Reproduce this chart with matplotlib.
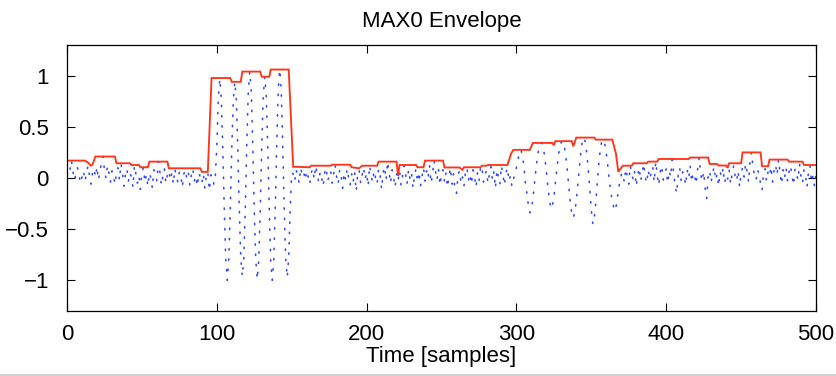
import numpy as np
import matplotlib
matplotlib.use("Agg")
import matplotlib.pyplot as plt
from matplotlib.lines import Line2D

plt.rcParams['font.family'] = ['Liberation Sans', 'DejaVu Sans']
plt.rcParams['lines.scale_dashes'] = False
plt.rcParams['axes.unicode_minus'] = True

# ---- data ----
signal = [
    # 0-96 noise
    0.05, 0.02, 0.08, 0.17, 0.06, -0.02, 0.04, 0.10, 0.03, -0.05,
    0.01, 0.07, -0.03, 0.04, 0.12, 0.02, -0.06, 0.05, 0.09, 0.01,
    0.11, -0.02, 0.06, 0.15, 0.21, 0.08, 0.00, 0.12, 0.05, -0.04,
    0.07, 0.02, -0.06, 0.04, 0.10, -0.02, 0.14, 0.06, -0.08, 0.03,
    0.09, -0.03, 0.05, 0.01, -0.09, 0.12, 0.04, -0.05, 0.02, -0.11,
    0.06, 0.10, -0.04, 0.03, -0.08, 0.05, 0.00, -0.10, 0.08, 0.04,
    -0.03, 0.16, 0.06, -0.07, 0.02, 0.09, -0.05, 0.03, 0.07, -0.02,
    0.05, -0.06, 0.09, 0.01, -0.04, 0.06, 0.02, -0.09, 0.04, 0.08,
    -0.01, 0.05, -0.07, 0.03, 0.09, -0.03, 0.02, -0.08, 0.05, 0.01,
    -0.05, 0.04, -0.10, 0.02, 0.06, -0.12, 0.03,
    # 97-150 strong oscillation
    0.03, -0.06, 0.02, 0.30, 0.78, 0.97, 0.78, 0.29, -0.31, -0.80,
    -1.00, -0.79, -0.30, 0.29, 0.76, 0.94, 0.77, 0.30, -0.30, -0.78,
    -0.96, -0.80, -0.31, 0.32, 0.84, 1.04, 0.85, 0.32, -0.31, -0.80,
    -0.99, -0.80, -0.31, 0.31, 0.80, 0.99, 0.80, 0.31, -0.31, -0.81,
    -1.00, -0.82, -0.32, 0.33, 0.86, 1.06, 0.86, 0.33, -0.30, -0.79,
    -0.97, -0.78, -0.30, 0.05,
    # 151-295 noise
    0.04, -0.03, 0.08, 0.02, -0.05, 0.10, 0.03, 0.06, -0.02, 0.07,
    0.01, -0.06, 0.05, 0.09, -0.01, 0.12, 0.04, -0.04, 0.06, 0.00,
    -0.08, 0.05, 0.10, -0.03, 0.02, 0.07, -0.05, 0.04, 0.13, 0.01,
    -0.06, 0.08, 0.03, -0.10, 0.05, -0.02, 0.09, 0.00, -0.07, 0.04,
    -0.04, 0.06, -0.13, 0.02, 0.08, -0.05, 0.03, 0.10, -0.01, 0.05,
    -0.08, 0.12, 0.02, -0.04, 0.07, 0.00, -0.06, 0.09, 0.03, -0.11,
    0.05, 0.11, -0.02, 0.16, 0.06, -0.05, 0.08, 0.01, -0.09, 0.04,
    -0.03, 0.07, -0.07, 0.02, 0.12, 0.04, -0.06, 0.08, -0.01, 0.05,
    -0.10, 0.03, 0.09, -0.04, 0.06, -0.08, 0.02, 0.10, -0.03, 0.07,
    0.00, 0.12, -0.05, 0.04, 0.17, 0.06, -0.02, 0.09, -0.07, 0.03,
    0.08, -0.04, 0.05, -0.09, 0.02, 0.10, -0.06, 0.04, -0.12, -0.15,
    0.03, 0.07, -0.05, 0.01, -0.08, 0.06, 0.10, -0.02, 0.04, -0.06,
    0.08, 0.02, -0.09, 0.05, -0.03, 0.09, 0.12, -0.04, 0.03, 0.07,
    -0.05, 0.04, 0.11, -0.02, 0.06, -0.10, 0.08, 0.01, -0.06, 0.12,
    0.03, -0.07, 0.05, 0.10, -0.03,
    # 296-370 medium oscillation
    0.02, -0.08, -0.02, 0.06, 0.10, 0.17, 0.25, 0.275, 0.22, 0.12,
    -0.05, -0.15, -0.27, -0.34, -0.31, -0.20, -0.06, 0.08, 0.20, 0.29,
    0.33, 0.343, 0.30, 0.19, 0.07, -0.09, -0.21, -0.30, -0.27, -0.19,
    -0.05, 0.09, 0.21, 0.31, 0.35, 0.36, 0.31, 0.21, 0.07, -0.09,
    -0.24, -0.35, -0.39, -0.33, -0.22, -0.06, 0.10, 0.25, 0.36, 0.395,
    0.35, 0.24, 0.08, -0.12, -0.31, -0.45, -0.38, -0.24, -0.05, 0.14,
    0.28, 0.36, 0.375, 0.33, 0.24, 0.12, -0.02, -0.14, -0.22, -0.29,
    -0.32, -0.24, -0.12, -0.04, 0.03,
    # 371-500 noise
    0.05, -0.04, 0.09, 0.02, -0.06, 0.12, 0.04, -0.02, 0.07, -0.08,
    0.03, 0.10, -0.03, 0.06, 0.14, 0.01, -0.05, 0.08, -0.01, 0.05,
    0.11, -0.04, 0.16, 0.03, -0.07, 0.06, 0.12, -0.02, 0.04, 0.09,
    -0.05, 0.07, 0.01, 0.18, 0.05, -0.08, -0.15, 0.03, 0.10, -0.03,
    0.06, 0.02, -0.07, 0.08, 0.00, 0.12, -0.04, 0.05, 0.02, -0.06,
    0.09, 0.20, 0.04, -0.03, 0.06, -0.10, -0.20, 0.02, 0.07, -0.04,
    0.05, 0.11, -0.02, 0.04, -0.08, 0.06, 0.01, 0.10, -0.05, 0.03,
    -0.01, 0.08, -0.06, 0.04, 0.12, 0.02, -0.03, 0.07, -0.09, 0.05,
    0.10, 0.01, 0.14, 0.06, -0.04, 0.17, 0.25, 0.09, 0.03, -0.02,
    0.08, 0.04, -0.06, -0.12, 0.05, 0.09, -0.03, 0.06, 0.02, 0.11,
    -0.04, 0.07, 0.13, 0.03, 0.18, 0.05, -0.06, 0.08, 0.00, 0.10,
    -0.03, 0.06, 0.12, 0.02, -0.07, 0.09, 0.04, -0.02, 0.14, 0.01,
    -0.05, 0.08, 0.03, -0.09, 0.06, 0.12, -0.04, 0.02, -0.08, 0.05,
]

env_t = [0, 12, 14, 16, 17, 19, 32, 33, 42, 43, 48, 49, 54, 55, 67, 68, 89, 90, 94,
         96.5, 109, 110, 116, 117, 129, 130, 135, 136, 148, 151, 162, 163, 176, 177,
         189, 190, 195, 197, 207, 208, 220, 221, 222, 233, 234, 238, 239, 251, 252,
         262, 264, 265, 276, 277, 280, 281, 294, 296.5, 298, 309, 311, 324, 325, 326,
         337, 338, 340, 352, 353, 364, 366.5, 368, 371, 377, 378, 387, 388, 394, 395,
         415, 416, 428, 429, 434, 435, 440, 441, 442, 450, 451, 463, 464, 468, 469,
         481, 482, 491, 492, 500]
env_v = [0.17, 0.17, 0.15, 0.12, 0.13, 0.21, 0.21, 0.144, 0.144, 0.127, 0.127, 0.105,
         0.105, 0.16, 0.16, 0.095, 0.095, 0.06, 0.06,
         0.977, 0.977, 0.94, 0.94, 1.04, 1.04, 0.99, 0.99, 1.06, 1.06, 0.11, 0.105,
         0.12, 0.12, 0.13, 0.13, 0.105, 0.095, 0.12, 0.12, 0.16, 0.16, 0.02, 0.127,
         0.127, 0.105, 0.105, 0.17, 0.17, 0.103, 0.103, 0.08, 0.105, 0.105, 0.12,
         0.12, 0.127, 0.127, 0.24, 0.275, 0.275, 0.343, 0.343, 0.32, 0.36, 0.36,
         0.31, 0.395, 0.395, 0.375, 0.375, 0.235, 0.06, 0.12, 0.12, 0.144, 0.144,
         0.16, 0.16, 0.186, 0.186, 0.2, 0.2, 0.137, 0.137, 0.122, 0.122, 0.10,
         0.144, 0.144, 0.25, 0.25, 0.115, 0.115, 0.18, 0.18, 0.16, 0.16, 0.127, 0.127]

x_ticks = [0, 100, 200, 300, 400, 500]
y_ticks = [-1, -0.5, 0, 0.5, 1]
y_ticklabels = ['\u22121', '\u22120.5', '0', '0.5', '1']

# ---- figure ----
fig = plt.figure(figsize=(8.36, 3.76), dpi=100)
ax = fig.add_axes([67 / 836, 1 - 311 / 376, (816 - 67) / 836, (311 - 45) / 376])

t = np.arange(len(signal))
ax.plot(t, signal, color='#3048ff', lw=1.15, linestyle=(0, (1.0, 6.4)),
        dash_capstyle='round')
ax.plot(env_t, env_v, color='#ff3418', lw=1.35, solid_joinstyle='miter')

ax.set_xlim(0, 500)
ax.set_ylim(-1.3, 1.3)
ax.set_xticks(x_ticks)
ax.set_yticks(y_ticks)
ax.set_yticklabels(y_ticklabels)
ax.tick_params(axis='both', direction='in', length=5.5, width=0.8,
               top=True, right=True, labelsize=16, colors='black')
ax.tick_params(axis='x', pad=9)
ax.tick_params(axis='y', pad=13)
for s in ax.spines.values():
    s.set_linewidth(0.9)

ax.set_title('MAX0 Envelope', fontsize=16, pad=13)
ax.set_xlabel('Time [samples]', fontsize=16, labelpad=1)

fig.add_artist(Line2D([0, 1], [0.003, 0.003], transform=fig.transFigure,
                      color='#c8c8c8', lw=1.2))

fig.savefig('out.png', dpi=100)
